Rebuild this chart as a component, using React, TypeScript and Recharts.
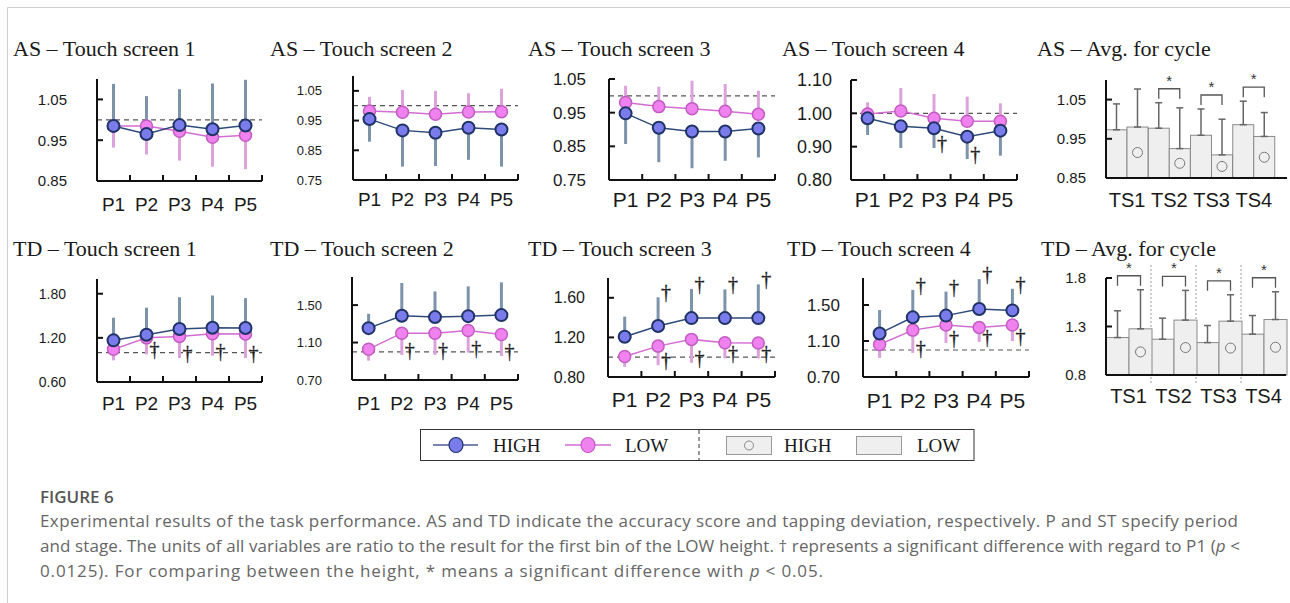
import React from "react";
import { LineChart, Line, XAxis, YAxis, ErrorBar, ReferenceLine, BarChart, Bar } from "recharts";

// ---- categories ----
const periods = ["P1", "P2", "P3", "P4", "P5"];
const stages = ["TS1", "TS2", "TS3", "TS4"];

// ---- AS (accuracy score) per touch screen: means and one-sided SD ----
const asHigh1 = [0.985, 0.965, 0.987, 0.977, 0.986];
const asHighErr1 = [0.103, 0.093, 0.088, 0.112, 0.112];
const asLow1 = [0.985, 0.985, 0.972, 0.957, 0.962];
const asLowErr1 = [0.053, 0.07, 0.072, 0.072, 0.083];

const asHigh2 = [0.955, 0.917, 0.909, 0.926, 0.92];
const asHighErr2 = [0.076, 0.122, 0.112, 0.108, 0.125];
const asLow2 = [0.982, 0.978, 0.971, 0.979, 0.98];
const asLowErr2 = [0.048, 0.075, 0.079, 0.063, 0.077];

const asHigh3 = [0.948, 0.905, 0.894, 0.894, 0.903];
const asHighErr3 = [0.091, 0.102, 0.109, 0.087, 0.086];
const asLow3 = [0.98, 0.968, 0.962, 0.954, 0.945];
const asLowErr3 = [0.05, 0.059, 0.083, 0.081, 0.07];

const asHigh4 = [0.985, 0.961, 0.955, 0.93, 0.948];
const asHighErr4 = [0.05, 0.065, 0.059, 0.067, 0.075];
const asLow4 = [0.998, 1.007, 0.985, 0.976, 0.976];
const asLowErr4 = [0.035, 0.069, 0.073, 0.074, 0.054];
const asHighSig4 = [false, false, true, true, false];

// ---- TD (tapping deviation) per touch screen ----
const tdHigh1 = [1.166, 1.243, 1.32, 1.338, 1.333];
const tdHighErr1 = [0.308, 0.367, 0.433, 0.438, 0.407];
const tdLow1 = [1.044, 1.2, 1.22, 1.257, 1.252];
const tdLowErr1 = [0.15, 0.224, 0.294, 0.299, 0.326];

const tdHigh2 = [1.254, 1.386, 1.372, 1.382, 1.393];
const tdHighErr2 = [0.153, 0.35, 0.274, 0.318, 0.35];
const tdLow2 = [1.029, 1.2, 1.2, 1.228, 1.186];
const tdLowErr2 = [0.122, 0.232, 0.232, 0.235, 0.229];

const tdHigh3 = [1.206, 1.315, 1.395, 1.395, 1.395];
const tdHighErr3 = [0.204, 0.29, 0.295, 0.29, 0.341];
const tdLow3 = [1.007, 1.112, 1.18, 1.146, 1.143];
const tdLowErr3 = [0.105, 0.193, 0.237, 0.158, 0.155];

const tdHigh4 = [1.184, 1.363, 1.382, 1.456, 1.44];
const tdHighErr4 = [0.26, 0.305, 0.267, 0.331, 0.24];
const tdLow4 = [1.061, 1.221, 1.277, 1.251, 1.277];
const tdLowErr4 = [0.149, 0.253, 0.198, 0.161, 0.177];

const noSig = [false, false, false, false, false];
const sigAfterP1 = [false, true, true, true, true];

// ---- averages for cycle ----
const asAvgLow = [0.973, 0.977, 0.959, 0.986];
const asAvgLowErr = [0.066, 0.065, 0.067, 0.06];
const asAvgHigh = [0.98, 0.925, 0.909, 0.956];
const asAvgHighErr = [0.097, 0.104, 0.091, 0.061];
const asAvgSig = [false, true, true, true];

const tdAvgLow = [1.186, 1.169, 1.134, 1.221];
const tdAvgLowErr = [0.276, 0.217, 0.176, 0.192];
const tdAvgHigh = [1.276, 1.366, 1.355, 1.372];
const tdAvgHighErr = [0.403, 0.306, 0.272, 0.286];
const tdAvgSig = [true, true, true, true];

const legendLabels = ["HIGH", "LOW"];

// ---- styles ----
const SANS = "'Liberation Sans', Arial, sans-serif";
const SERIF = "'Liberation Serif', 'Times New Roman', serif";
const INK = "#1a1a1a";
const blueLine = "#2e4a7a";
const blueFill = "#7b7ceb";
const blueEdge = "#1f3366";
const blueErr = "#7d93aa";
const pinkLine = "#d36cd3";
const pinkFill = "#ef82ef";
const pinkEdge = "#c25cc2";
const pinkErr = "#dca2dc";
const barFill = "#efefef";
const barEdge = "#8a8a8a";

const L = 90; // y axis width
const T = 30;
const B = 45;

function buildRows(high: number[], hErr: number[], hUp: boolean, hSig: boolean[],
                   low: number[], lErr: number[], lUp: boolean, lSig: boolean[]) {
  return periods.map((p, i) => ({
    x: i + 1,
    period: p,
    high: high[i],
    highErr: hUp ? [0, hErr[i]] : [hErr[i], 0],
    highDag: hSig[i] ? (hUp ? high[i] + hErr[i] : high[i] - hErr[i]) : null,
    low: low[i],
    lowErr: lUp ? [0, lErr[i]] : [lErr[i], 0],
    lowDag: lSig[i] ? (lUp ? low[i] + lErr[i] : low[i] - lErr[i]) : null,
  }));
}

const linePanels = [
  { title: "AS – Touch screen 1", tx: 13, ty: 56, x0: 97, x1: 262, y0: 79, y1: 181, domain: [0.85, 1.1], ticks: [0.85, 0.95, 1.05], yFont: 15, yGap: 30, xFont: 19, xGap: 17,
    rows: buildRows(asHigh1, asHighErr1, true, noSig, asLow1, asLowErr1, false, noSig) },
  { title: "AS – Touch screen 2", tx: 270, ty: 56, x0: 353, x1: 518, y0: 76, y1: 180, domain: [0.75, 1.1], ticks: [0.75, 0.85, 0.95, 1.05], yFont: 13, yGap: 31, xFont: 19, xGap: 13,
    rows: buildRows(asHigh2, asHighErr2, false, noSig, asLow2, asLowErr2, true, noSig) },
  { title: "AS – Touch screen 3", tx: 528, ty: 56, x0: 609, x1: 775, y0: 79, y1: 180, domain: [0.75, 1.05], ticks: [0.75, 0.85, 0.95, 1.05], yFont: 17, yGap: 23, xFont: 21, xGap: 12,
    rows: buildRows(asHigh3, asHighErr3, false, noSig, asLow3, asLowErr3, true, noSig) },
  { title: "AS – Touch screen 4", tx: 782, ty: 56, x0: 851, x1: 1017, y0: 80, y1: 180, domain: [0.8, 1.1], ticks: [0.8, 0.9, 1.0, 1.1], yFont: 18, yGap: 19, xFont: 21, xGap: 12,
    rows: buildRows(asHigh4, asHighErr4, false, asHighSig4, asLow4, asLowErr4, true, noSig) },
  { title: "TD – Touch screen 1", tx: 13, ty: 255.5, x0: 97, x1: 262, y0: 279, y1: 382, domain: [0.6, 2.0], ticks: [0.6, 1.2, 1.8], yFont: 14, yGap: 31, xFont: 19, xGap: 15,
    rows: buildRows(tdHigh1, tdHighErr1, true, noSig, tdLow1, tdLowErr1, false, sigAfterP1) },
  { title: "TD – Touch screen 2", tx: 270, ty: 255.5, x0: 352, x1: 518, y0: 277, y1: 380, domain: [0.7, 1.8], ticks: [0.7, 1.1, 1.5], yFont: 13, yGap: 30, xFont: 19, xGap: 17,
    rows: buildRows(tdHigh2, tdHighErr2, true, noSig, tdLow2, tdLowErr2, false, sigAfterP1) },
  { title: "TD – Touch screen 3", tx: 528, ty: 255.5, x0: 608, x1: 775, y0: 278, y1: 377, domain: [0.8, 1.8], ticks: [0.8, 1.2, 1.6], yFont: 16, yGap: 23, xFont: 21, xGap: 15,
    rows: buildRows(tdHigh3, tdHighErr3, true, sigAfterP1, tdLow3, tdLowErr3, false, sigAfterP1) },
  { title: "TD – Touch screen 4", tx: 787, ty: 255.5, x0: 863, x1: 1029, y0: 278, y1: 377, domain: [0.7, 1.8], ticks: [0.7, 1.1, 1.5], yFont: 17, yGap: 23, xFont: 21, xGap: 16,
    rows: buildRows(tdHigh4, tdHighErr4, true, sigAfterP1, tdLow4, tdLowErr4, false, sigAfterP1) },
];

function buildBarRows(low: number[], lErr: number[], high: number[], hErr: number[], sig: boolean[]) {
  return stages.map((s, i) => ({
    stage: s,
    low: low[i],
    lowErr: [0, lErr[i]],
    high: high[i],
    highErr: [0, hErr[i]],
    sig: sig[i],
  }));
}

const barPanels = [
  { title: "AS – Avg. for cycle", tx: 1037, ty: 56, x0: 1106, x1: 1287, y0: 80, y1: 178, domain: [0.85, 1.1], ticks: [0.85, 0.95, 1.05], digits: 2, yFont: 15, yGap: 20, xFont: 20, xGap: 15, padRight: 12, separators: false,
    rows: buildBarRows(asAvgLow, asAvgLowErr, asAvgHigh, asAvgHighErr, asAvgSig) },
  { title: "TD – Avg. for cycle", tx: 1041, ty: 255.5, x0: 1106, x1: 1286, y0: 278, y1: 375, domain: [0.8, 1.8], ticks: [0.8, 1.3, 1.8], digits: 1, yFont: 15, yGap: 20, xFont: 20, xGap: 14, padRight: 0, separators: true,
    rows: buildBarRows(tdAvgLow, tdAvgLowErr, tdAvgHigh, tdAvgHighErr, tdAvgSig) },
];

const axisStyle = { stroke: "#111", strokeWidth: 2 };

const Dagger = (props: any) => {
  const { cx, cy, value, index } = props;
  if (cx == null || cy == null || value == null || Number.isNaN(cy)) return <g key={`dg-${index}`} />;
  return (
    <text key={`dg-${index}`} x={cx + 8} y={cy - 5} textAnchor="middle" dominantBaseline="central"
      fontFamily={SERIF} fontSize={20} fill="#222" stroke="#222" strokeWidth={0.3}>†</text>
  );
};

function LinePanel({ p }: { p: any }) {
  const R = 15;
  const w = p.x1 - p.x0 + L + R;
  const h = p.y1 - p.y0 + T + B;
  const hasHighDag = p.rows.some((r: any) => r.highDag != null);
  const hasLowDag = p.rows.some((r: any) => r.lowDag != null);
  const xTicks = [1, 1.5, 2, 2.5, 3, 3.5, 4, 4.5, 5, 5.5];
  const PeriodTick = (tp: any) => {
    const { x, y, payload } = tp;
    const v = payload.value;
    if (Number.isInteger(v)) {
      return (
        <text x={x} y={y} dy="0.71em" textAnchor="middle" fontSize={p.xFont} fontFamily={SANS} fill={INK}>
          {periods[v - 1]}
        </text>
      );
    }
    const ay = y - p.xGap;
    return <line x1={x} x2={x} y1={ay} y2={ay - 6} stroke="#111" strokeWidth={2} />;
  };
  return (
    <div style={{ position: "absolute", left: p.x0 - L, top: p.y0 - T }}>
      <LineChart width={w} height={h} data={p.rows} margin={{ top: T, right: R, left: 0, bottom: 0 }}>
        <XAxis dataKey="x" type="number" domain={[0.5, 5.5]} ticks={xTicks} interval={0} height={B}
          tickLine={false} tickSize={0} tickMargin={p.xGap} axisLine={axisStyle} tick={PeriodTick} />
        <YAxis type="number" domain={p.domain} ticks={p.ticks} interval={0} width={L}
          tickFormatter={(v: number) => v.toFixed(2)} tickSize={-6} tickMargin={p.yGap + 6}
          axisLine={axisStyle} tickLine={axisStyle} tick={{ fontSize: p.yFont, fill: INK, fontFamily: SANS }} />
        <ReferenceLine y={1} stroke="#555" strokeDasharray="5 4" strokeWidth={1.2} />
        <Line dataKey="high" stroke="none" dot={false} activeDot={false} isAnimationActive={false}>
          <ErrorBar dataKey="highErr" width={0} strokeWidth={3} stroke={blueErr} direction="y" />
        </Line>
        <Line dataKey="low" stroke="none" dot={false} activeDot={false} isAnimationActive={false}>
          <ErrorBar dataKey="lowErr" width={0} strokeWidth={3} stroke={pinkErr} direction="y" />
        </Line>
        <Line dataKey="low" stroke={pinkLine} strokeWidth={1.5} isAnimationActive={false} activeDot={false}
          dot={{ r: 6, fill: pinkFill, stroke: pinkEdge, strokeWidth: 1.5 }} />
        <Line dataKey="high" stroke={blueLine} strokeWidth={1.5} isAnimationActive={false} activeDot={false}
          dot={{ r: 6, fill: blueFill, stroke: blueEdge, strokeWidth: 2 }} />
        {hasHighDag && (
          <Line dataKey="highDag" stroke="none" dot={Dagger} activeDot={false} isAnimationActive={false} />
        )}
        {hasLowDag && (
          <Line dataKey="lowDag" stroke="none" dot={Dagger} activeDot={false} isAnimationActive={false} />
        )}
      </LineChart>
    </div>
  );
}

function BarPanel({ p }: { p: any }) {
  const R = 3;
  const w = p.x1 - p.x0 + L + R;
  const h = p.y1 - p.y0 + T + B;
  const vmin = p.domain[0];
  const vmax = p.domain[1];

  const LowBar = (bp: any) => {
    const { x, y, width, height, payload, index } = bp;
    const bottom = y + height;
    const k = height / (payload.low - vmin);
    const top = bottom - (vmax - vmin) * k;
    return (
      <g>
        <rect x={x} y={y} width={width} height={height} fill={barFill} stroke={barEdge} strokeWidth={1} />
        {p.separators && index > 0 && (
          <line x1={x} x2={x} y1={top - 13} y2={bottom + 10} stroke="#999" strokeWidth={1} strokeDasharray="2 2" />
        )}
      </g>
    );
  };

  const HighBar = (bp: any) => {
    const { x, y, width, height, payload } = bp;
    const bottom = y + height;
    const k = height / (payload.high - vmin);
    const px = (v: number) => bottom - (v - vmin) * k;
    const errTop = Math.min(px(payload.low + payload.lowErr[1]), px(payload.high + payload.highErr[1]));
    const by = errTop - 14;
    const lx = x - width / 2;
    const rx = x + width / 2;
    return (
      <g>
        <rect x={x} y={y} width={width} height={height} fill={barFill} stroke={barEdge} strokeWidth={1} />
        <circle cx={x + width / 2} cy={y + height / 2} r={5} fill="none" stroke="#777" strokeWidth={1} />
        {payload.sig && (
          <g>
            <path d={`M${lx},${by + 10}V${by}H${rx}V${by + 10}`} fill="none" stroke="#555" strokeWidth={1.3} />
            <text x={(lx + rx) / 2} y={by - 3} textAnchor="middle" fontFamily={SANS} fontSize={15} fill="#333">*</text>
          </g>
        )}
      </g>
    );
  };

  return (
    <div style={{ position: "absolute", left: p.x0 - L, top: p.y0 - T }}>
      <BarChart width={w} height={h} data={p.rows} margin={{ top: T, right: R, left: 0, bottom: 0 }}
        barCategoryGap={0} barGap={0}>
        <XAxis dataKey="stage" interval={0} height={B} tickLine={false} tickSize={0} tickMargin={p.xGap}
          axisLine={axisStyle} padding={{ left: 0, right: p.padRight }}
          tick={{ fontSize: p.xFont, fill: INK, fontFamily: SANS }} />
        <YAxis type="number" domain={p.domain} ticks={p.ticks} interval={0} width={L}
          tickFormatter={(v: number) => v.toFixed(p.digits)} tickSize={-6} tickMargin={p.yGap + 6}
          axisLine={axisStyle} tickLine={axisStyle} tick={{ fontSize: p.yFont, fill: INK, fontFamily: SANS }} />
        <Bar dataKey="low" shape={LowBar} isAnimationActive={false}>
          <ErrorBar dataKey="lowErr" width={3.5} strokeWidth={1.5} stroke="#666" direction="y" />
        </Bar>
        <Bar dataKey="high" shape={HighBar} isAnimationActive={false}>
          <ErrorBar dataKey="highErr" width={3.5} strokeWidth={1.5} stroke="#666" direction="y" />
        </Bar>
      </BarChart>
    </div>
  );
}

function Overlay() {
  const cap = { fontFamily: "'Open Sans', sans-serif", fontSize: 17, fill: "#666" };
  return (
    <svg width={1290} height={603} style={{ position: "absolute", left: 0, top: 0 }}>
      <path d="M7.5,603V7.5H1290" fill="none" stroke="#cfcfcf" strokeWidth={1} />
      {[...linePanels, ...barPanels].map((p) => (
        <text key={p.title} x={p.tx} y={p.ty} fontFamily={SERIF} fontSize={22} fill={INK}>{p.title}</text>
      ))}
      {/* legend */}
      <rect x={420.5} y={429.5} width={553.5} height={31} fill="#fff" stroke="#333" strokeWidth={1} />
      <line x1={433} x2={478} y1={445} y2={445} stroke="#4a5c99" strokeWidth={1.5} />
      <ellipse cx={456} cy={445} rx={7} ry={7.5} fill={blueFill} stroke={blueEdge} strokeWidth={1.2} />
      <text x={493} y={445} dominantBaseline="central" fontFamily={SERIF} fontSize={19} fill={INK}>{legendLabels[0]}</text>
      <line x1={565} x2={611} y1={445} y2={445} stroke={pinkLine} strokeWidth={1.5} />
      <ellipse cx={588} cy={445} rx={7} ry={7.5} fill={pinkFill} stroke={pinkEdge} strokeWidth={1.2} />
      <text x={625} y={445} dominantBaseline="central" fontFamily={SERIF} fontSize={19} fill={INK}>{legendLabels[1]}</text>
      <line x1={699} x2={699} y1={430} y2={460} stroke="#333" strokeWidth={1} strokeDasharray="4 3" />
      <rect x={726.5} y={436.5} width={45} height={18} fill={barFill} stroke="#999" strokeWidth={1} />
      <circle cx={749} cy={445.5} r={4.5} fill="none" stroke="#888" strokeWidth={1} />
      <text x={784} y={445} dominantBaseline="central" fontFamily={SERIF} fontSize={19} fill={INK}>{legendLabels[0]}</text>
      <rect x={856.5} y={436.5} width={45} height={18} fill={barFill} stroke="#999" strokeWidth={1} />
      <text x={917} y={445} dominantBaseline="central" fontFamily={SERIF} fontSize={19} fill={INK}>{legendLabels[1]}</text>
      {/* caption */}
      <text x={40} y={503} fontFamily="'Open Sans', sans-serif" fontWeight={600} fontSize={17} fill="#555">FIGURE 6</text>
      <text x={40} y={527} textLength={1198} lengthAdjust="spacing" {...cap}>
        Experimental results of the task performance. AS and TD indicate the accuracy score and tapping deviation, respectively. P and ST specify period
      </text>
      <text x={40} y={552} textLength={1200} lengthAdjust="spacing" {...cap}>
        and stage. The units of all variables are ratio to the result for the first bin of the LOW height. † represents a significant difference with regard to P1 (<tspan fontStyle="italic">p</tspan> {"<"}
      </text>
      <text x={40} y={577} textLength={783} lengthAdjust="spacing" {...cap}>
        0.0125). For comparing between the height, * means a significant difference with <tspan fontStyle="italic">p</tspan> {"<"} 0.05.
      </text>
    </svg>
  );
}

export default function App() {
  return (
    <div style={{ position: "absolute", left: 0, top: 0, width: 1290, height: 603, overflow: "hidden", background: "#fff" }}>
      <Overlay />
      {linePanels.map((p) => <LinePanel key={p.title} p={p} />)}
      {barPanels.map((p) => <BarPanel key={p.title} p={p} />)}
    </div>
  );
}
